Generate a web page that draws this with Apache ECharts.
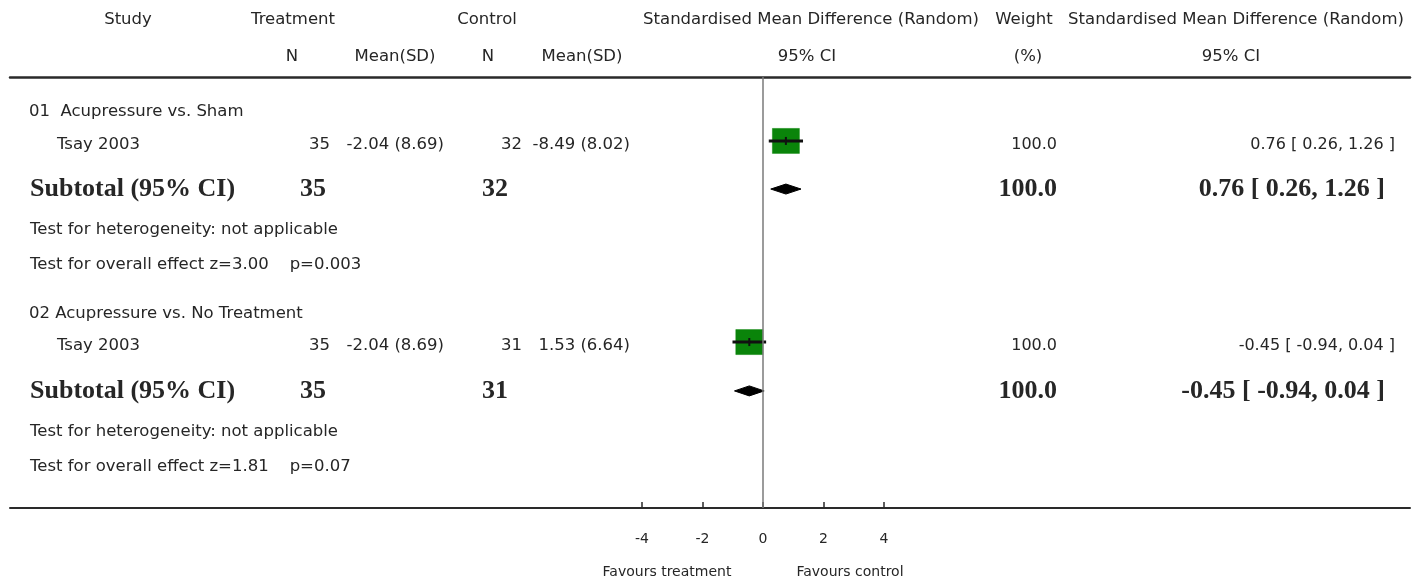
<!DOCTYPE html>
<html>
<head>
<meta charset="utf-8">
<script src="https://cdn.jsdelivr.net/npm/echarts@6/dist/echarts.min.js"></script>
<style>
  html, body { margin: 0; padding: 0; background: #ffffff; }
  #chart { width: 1414px; height: 579px; }
</style>
</head>
<body>
<div id="chart"></div>
<script>
// ---- Comparison results (one study per comparison) ----
const groups = ['01  Acupressure vs. Sham', '02 Acupressure vs. No Treatment'];
const studies = ['Tsay 2003', 'Tsay 2003'];
const treatN = [35, 35];
const treatMeanSD = ['-2.04 (8.69)', '-2.04 (8.69)'];
const controlN = [32, 31];
const controlMeanSD = ['-8.49 (8.02)', '1.53 (6.64)'];
const smd = [0.76, -0.45];
const ciLow = [0.26, -0.94];
const ciHigh = [1.26, 0.04];
const weights = [100.0, 100.0];

// ---- Subtotals ----
const subTreatN = [35, 35];
const subControlN = [32, 31];
const subWeight = [100.0, 100.0];
const subSmd = [0.76, -0.45];
const subLow = [0.26, -0.94];
const subHigh = [1.26, 0.04];
const heterogeneity = ['not applicable', 'not applicable'];
const zValues = ['3.00', '1.81'];
const pValues = ['0.003', '0.07'];

// ---- Axis ----
const xTicks = [-4, -2, 0, 2, 4];
const favours = ['Favours treatment', 'Favours control'];

// ---- Layout (row positions on the hidden y axis, column x in pixels) ----
const ROW = {
  head1: -1.59, head2: -0.56,
  group: [0.97, 6.60], study: [1.88, 7.48], sub: [3.12, 8.74],
  het: [4.26, 9.88], overall: [5.23, 10.86], favours: 13.78
};
const SANS = "'DejaVu Sans', sans-serif";
const SERIF = "'Liberation Serif', 'Times New Roman', serif";
const FONT = {
  head: '16.5px ' + SANS,
  body: '16.5px ' + SANS,
  small: '16px ' + SANS,
  bold: 'bold 26px ' + SERIF
};
const TEXT_COLOR = '#262626';

const fmtCI = (v, lo, hi) => v.toFixed(2) + ' [ ' + lo.toFixed(2) + ', ' + hi.toFixed(2) + ' ]';

// Table text cells: x px, align, row, text, font
const cells = [];
function cell(x, align, row, text, font) { cells.push({ x, align, row, text, font }); }

cell(128, 'center', ROW.head1, 'Study', FONT.head);
cell(293, 'center', ROW.head1, 'Treatment', FONT.head);
cell(487, 'center', ROW.head1, 'Control', FONT.head);
cell(811, 'center', ROW.head1, 'Standardised Mean Difference (Random)', FONT.head);
cell(1024, 'center', ROW.head1, 'Weight', FONT.head);
cell(1236, 'center', ROW.head1, 'Standardised Mean Difference (Random)', FONT.head);
cell(292, 'center', ROW.head2, 'N', FONT.head);
cell(395, 'center', ROW.head2, 'Mean(SD)', FONT.head);
cell(488, 'center', ROW.head2, 'N', FONT.head);
cell(582, 'center', ROW.head2, 'Mean(SD)', FONT.head);
cell(807, 'center', ROW.head2, '95% CI', FONT.head);
cell(1028, 'center', ROW.head2, '(%)', FONT.head);
cell(1231, 'center', ROW.head2, '95% CI', FONT.head);

for (let g = 0; g < groups.length; g++) {
  cell(29, 'left', ROW.group[g], groups[g], FONT.body);
  cell(57, 'left', ROW.study[g], studies[g], FONT.body);
  cell(330, 'right', ROW.study[g], String(treatN[g]), FONT.body);
  cell(444, 'right', ROW.study[g], treatMeanSD[g], FONT.body);
  cell(522, 'right', ROW.study[g], String(controlN[g]), FONT.body);
  cell(630, 'right', ROW.study[g], controlMeanSD[g], FONT.body);
  cell(1057, 'right', ROW.study[g], weights[g].toFixed(1), FONT.small);
  cell(1395, 'right', ROW.study[g], fmtCI(smd[g], ciLow[g], ciHigh[g]), FONT.small);

  cell(30, 'left', ROW.sub[g], 'Subtotal (95% CI)', FONT.bold);
  cell(300, 'left', ROW.sub[g], String(subTreatN[g]), FONT.bold);
  cell(482, 'left', ROW.sub[g], String(subControlN[g]), FONT.bold);
  cell(1057, 'right', ROW.sub[g], subWeight[g].toFixed(1), FONT.bold);
  cell(1385, 'right', ROW.sub[g], fmtCI(subSmd[g], subLow[g], subHigh[g]), FONT.bold);

  cell(30, 'left', ROW.het[g], 'Test for heterogeneity: ' + heterogeneity[g], FONT.body);
  cell(30, 'left', ROW.overall[g], 'Test for overall effect z=' + zValues[g] + '    p=' + pValues[g], FONT.body);
}
cell(667, 'center', ROW.favours, favours[0], '14px ' + SANS);
cell(850, 'center', ROW.favours, favours[1], '14px ' + SANS);

const studyData = smd.map((v, i) => [v, ROW.study[i] - 0.1, ciLow[i], ciHigh[i]]);
const subData = subSmd.map((v, i) => [v, ROW.sub[i], subLow[i], subHigh[i]]);

const chart = echarts.init(document.getElementById('chart'), null, { renderer: 'canvas' });

chart.setOption({
  backgroundColor: '#ffffff',
  animation: false,
  grid: { left: 10, right: 4, top: 77, bottom: 71, containLabel: false },
  xAxis: [
    {
      type: 'value', min: -24.9, max: 21.4, position: 'bottom',
      splitLine: { show: false },
      axisLine: { show: true, onZero: false, lineStyle: { color: '#2a2a2a', width: 2 } },
      axisTick: { show: true, inside: true, length: 6, customValues: xTicks,
                  lineStyle: { color: '#2a2a2a', width: 1.5 } },
      axisLabel: { show: true, customValues: xTicks, margin: 24,
                   color: TEXT_COLOR, fontFamily: SANS, fontSize: 14 }
    },
    {
      type: 'value', min: -24.9, max: 21.4, position: 'top',
      splitLine: { show: false },
      axisLine: { show: true, onZero: false, lineStyle: { color: '#2a2a2a', width: 2.5 } },
      axisTick: { show: false }, axisLabel: { show: false }
    }
  ],
  yAxis: { type: 'value', inverse: true, min: 0, max: 12, show: false },
  series: [
    {
      // Line of no effect
      type: 'line', data: [], silent: true,
      markLine: {
        symbol: 'none', silent: true, label: { show: false },
        lineStyle: { color: '#7a7a7a', width: 1.5, type: 'solid' },
        data: [{ xAxis: 0 }]
      }
    },
    {
      // Study estimates: square + CI line
      type: 'custom', clip: false, silent: true,
      data: studyData,
      renderItem: function (params, api) {
        const c = api.coord([api.value(0), api.value(1)]);
        const lo = api.coord([api.value(2), api.value(1)]);
        const hi = api.coord([api.value(3), api.value(1)]);
        const w = 27, h = 25;
        return {
          type: 'group',
          children: [
            { type: 'rect', shape: { x: c[0] - w / 2, y: c[1] - h / 2, width: w, height: h },
              style: { fill: '#0a840a', stroke: '#0a840a', lineWidth: 0.5 } },
            { type: 'line', shape: { x1: lo[0] - 2, y1: c[1], x2: hi[0] + 2, y2: c[1] },
              style: { stroke: '#111', lineWidth: 3 } },
            { type: 'line', shape: { x1: c[0], y1: c[1] - 4, x2: c[0], y2: c[1] + 4 },
              style: { stroke: '#111', lineWidth: 2 } }
          ]
        };
      }
    },
    {
      // Pooled subtotals: diamond
      type: 'custom', clip: false, silent: true,
      data: subData,
      renderItem: function (params, api) {
        const c = api.coord([api.value(0), api.value(1)]);
        const lo = api.coord([api.value(2), api.value(1)]);
        const hi = api.coord([api.value(3), api.value(1)]);
        const hh = 5;
        return {
          type: 'polygon',
          shape: { points: [[lo[0], c[1]], [c[0], c[1] - hh], [hi[0], c[1]], [c[0], c[1] + hh]] },
          style: { fill: '#000', stroke: '#000', lineWidth: 1 }
        };
      }
    },
    {
      // Table text
      type: 'custom', clip: false, silent: true,
      data: cells.map(c => [0, c.row]),
      renderItem: function (params, api) {
        const t = cells[params.dataIndex];
        const y = api.coord([0, api.value(1)])[1];
        return {
          type: 'text',
          style: { x: t.x, y: y, text: t.text, font: t.font, fill: TEXT_COLOR,
                   textAlign: t.align, textVerticalAlign: 'middle' }
        };
      }
    }
  ]
});
</script>
</body>
</html>
